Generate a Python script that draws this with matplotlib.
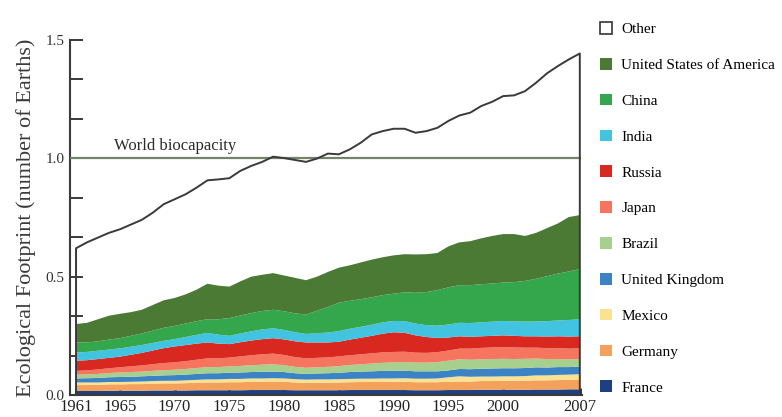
import matplotlib
matplotlib.use('Agg')
import matplotlib.pyplot as plt
from matplotlib.patches import Patch

plt.rcParams['font.family'] = ['Liberation Serif', 'DejaVu Serif']

# 年份 1961-2007
years = list(range(1961, 2008))

# 各国生态足迹（地球数），从下往上堆叠
france = [0.017, 0.017, 0.017, 0.018, 0.018, 0.018, 0.018, 0.019, 0.019, 0.019,
          0.019, 0.020, 0.020, 0.020, 0.020, 0.020, 0.021, 0.021, 0.021, 0.021,
          0.020, 0.020, 0.020, 0.020, 0.020, 0.021, 0.021, 0.021, 0.021, 0.021,
          0.021, 0.020, 0.020, 0.020, 0.021, 0.021, 0.021, 0.022, 0.022, 0.022,
          0.022, 0.022, 0.023, 0.023, 0.023, 0.024, 0.024]
germany = [0.025, 0.025, 0.026, 0.027, 0.027, 0.028, 0.028, 0.029, 0.030, 0.030,
           0.031, 0.032, 0.033, 0.033, 0.034, 0.034, 0.035, 0.035, 0.036, 0.035,
           0.033, 0.031, 0.032, 0.032, 0.033, 0.033, 0.034, 0.034, 0.035, 0.035,
           0.035, 0.034, 0.034, 0.034, 0.035, 0.036, 0.036, 0.037, 0.037, 0.038,
           0.038, 0.038, 0.039, 0.039, 0.040, 0.040, 0.041]
mexico = [0.011, 0.011, 0.010, 0.010, 0.010, 0.010, 0.011, 0.011, 0.011, 0.011,
          0.012, 0.012, 0.013, 0.013, 0.014, 0.014, 0.014, 0.014, 0.014, 0.014,
          0.014, 0.014, 0.014, 0.014, 0.014, 0.014, 0.014, 0.014, 0.014, 0.014,
          0.015, 0.015, 0.015, 0.016, 0.019, 0.022, 0.020, 0.019, 0.019, 0.019,
          0.019, 0.020, 0.021, 0.021, 0.022, 0.022, 0.023]
uk = [0.017, 0.018, 0.019, 0.020, 0.021, 0.021, 0.022, 0.022, 0.023, 0.024,
      0.024, 0.025, 0.026, 0.026, 0.026, 0.027, 0.027, 0.028, 0.028, 0.027,
      0.025, 0.024, 0.025, 0.026, 0.027, 0.029, 0.030, 0.031, 0.032, 0.033,
      0.032, 0.031, 0.031, 0.030, 0.029, 0.031, 0.032, 0.033, 0.034, 0.034,
      0.034, 0.034, 0.034, 0.033, 0.033, 0.032, 0.032]
brazil = [0.016, 0.016, 0.017, 0.018, 0.019, 0.020, 0.020, 0.021, 0.022, 0.023,
          0.024, 0.025, 0.026, 0.026, 0.027, 0.028, 0.029, 0.030, 0.031, 0.029,
          0.027, 0.026, 0.026, 0.027, 0.028, 0.030, 0.031, 0.033, 0.034, 0.035,
          0.036, 0.037, 0.037, 0.039, 0.041, 0.041, 0.040, 0.040, 0.040, 0.040,
          0.039, 0.039, 0.037, 0.036, 0.034, 0.033, 0.032]
japan = [0.016, 0.017, 0.019, 0.020, 0.022, 0.024, 0.026, 0.028, 0.030, 0.031,
         0.033, 0.035, 0.037, 0.037, 0.037, 0.040, 0.042, 0.044, 0.045, 0.043,
         0.041, 0.040, 0.040, 0.040, 0.041, 0.041, 0.042, 0.043, 0.044, 0.044,
         0.044, 0.042, 0.041, 0.042, 0.043, 0.045, 0.047, 0.048, 0.049, 0.050,
         0.049, 0.047, 0.046, 0.046, 0.046, 0.045, 0.045]
russia = [0.043, 0.043, 0.044, 0.044, 0.045, 0.049, 0.053, 0.058, 0.063, 0.067,
          0.068, 0.068, 0.067, 0.062, 0.057, 0.060, 0.062, 0.064, 0.065, 0.066,
          0.067, 0.067, 0.065, 0.063, 0.062, 0.066, 0.070, 0.074, 0.079, 0.083,
          0.080, 0.073, 0.067, 0.060, 0.055, 0.052, 0.050, 0.049, 0.049, 0.049,
          0.049, 0.048, 0.048, 0.049, 0.050, 0.051, 0.051]
india = [0.035, 0.035, 0.035, 0.035, 0.035, 0.034, 0.033, 0.032, 0.031, 0.031,
         0.034, 0.037, 0.040, 0.038, 0.035, 0.037, 0.039, 0.041, 0.042, 0.040,
         0.038, 0.036, 0.039, 0.042, 0.045, 0.046, 0.046, 0.047, 0.048, 0.048,
         0.049, 0.050, 0.050, 0.052, 0.055, 0.057, 0.058, 0.059, 0.060, 0.061,
         0.061, 0.062, 0.063, 0.065, 0.067, 0.070, 0.072]
china = [0.042, 0.040, 0.040, 0.042, 0.043, 0.046, 0.049, 0.052, 0.055, 0.056,
         0.057, 0.058, 0.058, 0.065, 0.075, 0.076, 0.077, 0.078, 0.078, 0.079,
         0.080, 0.082, 0.095, 0.108, 0.120, 0.118, 0.117, 0.116, 0.115, 0.115,
         0.122, 0.130, 0.140, 0.150, 0.157, 0.159, 0.160, 0.161, 0.161, 0.162,
         0.166, 0.172, 0.180, 0.190, 0.198, 0.205, 0.212]
usa = [0.078, 0.083, 0.093, 0.101, 0.103, 0.100, 0.100, 0.108, 0.116, 0.118,
       0.123, 0.133, 0.150, 0.142, 0.133, 0.144, 0.154, 0.153, 0.155, 0.151,
       0.150, 0.145, 0.144, 0.148, 0.148, 0.150, 0.155, 0.159, 0.160, 0.162,
       0.161, 0.162, 0.160, 0.157, 0.173, 0.181, 0.186, 0.194, 0.201, 0.205,
       0.203, 0.190, 0.194, 0.203, 0.212, 0.230, 0.228]

# 世界总生态足迹（其余部分为 Other）
world_total = [0.620, 0.645, 0.665, 0.685, 0.700, 0.720, 0.740, 0.770, 0.806, 0.827,
               0.848, 0.876, 0.907, 0.911, 0.916, 0.947, 0.968, 0.985, 1.007, 1.001,
               0.993, 0.985, 0.999, 1.020, 1.017, 1.038, 1.066, 1.101, 1.115, 1.125,
               1.125, 1.108, 1.115, 1.129, 1.158, 1.181, 1.193, 1.221, 1.239, 1.263,
               1.266, 1.284, 1.319, 1.359, 1.390, 1.418, 1.443]
biocapacity = 1.0

stack_names = ['France', 'Germany', 'Mexico', 'United Kingdom', 'Brazil',
               'Japan', 'Russia', 'India', 'China', 'United States of America']
stack_colors = ['#1e3f80', '#f4a15c', '#fbe291', '#3b83c4', '#a7d08e',
                '#f5755e', '#d9281f', '#42c3df', '#34a74c', '#4b7a35']
stack_data = [france, germany, mexico, uk, brazil, japan, russia, india, china, usa]

x_ticks = [1961, 1965, 1970, 1975, 1980, 1985, 1990, 1995, 2000, 2007]
y_ticks = [0.0, 0.5, 1.0, 1.5]
y_minor = [1 / 6, 2 / 6, 4 / 6, 5 / 6, 7 / 6, 8 / 6]

fig = plt.figure(figsize=(7.82, 4.17), dpi=100)
ax = fig.add_axes([70 / 782, 22 / 417, 512 / 782, 355 / 417])

# Other 区域：白色填充 + 黑色轮廓
ax.fill_between(years, 0, world_total, color='white', zorder=1)
ax.plot([years[0]] + years + [years[-1]], [0] + world_total + [0],
        color='#3a3a3a', linewidth=1.4, zorder=4)

ax.stackplot(years, *stack_data, colors=stack_colors, linewidth=0, zorder=2)

# 世界生物承载力
ax.plot([1960.45, years[-1]], [biocapacity, biocapacity], color='#74846a',
        linewidth=1.6, zorder=3)
ax.text(1964.5, 1.035, 'World biocapacity', fontsize=12, color='#2b2b2b',
        va='baseline', ha='left')

ax.set_xlim(1960.45, 2007.2)
ax.set_ylim(0, 1.5)
for side in ['top', 'right']:
    ax.spines[side].set_visible(False)
for side in ['left', 'bottom']:
    ax.spines[side].set_color('#3a3a3a')
    ax.spines[side].set_linewidth(1.5)

ax.set_xticks(x_ticks)
ax.set_xticklabels([str(t) for t in x_ticks])
ax.set_yticks(y_ticks)
ax.set_yticklabels(['0.0', '0.5', '1.0', '1.5'])
ax.set_yticks(y_minor, minor=True)
ax.tick_params(axis='y', which='both', direction='in', length=9, width=1.4,
               color='#3a3a3a', labelsize=11, labelcolor='#333333', pad=4)
ax.tick_params(axis='x', direction='in', length=5, width=2,
               color='#222222', labelsize=12, labelcolor='#222222', pad=3)

ax.set_ylabel('Ecological Footprint (number of Earths)', fontsize=16,
              color='#3a3a3a', labelpad=7)

handles = [Patch(facecolor='white', edgecolor='#333333', linewidth=1.2, label='Other')]
for name, col in zip(stack_names[::-1], stack_colors[::-1]):
    handles.append(Patch(facecolor=col, edgecolor='none', label=name))
fig.legend(handles=handles, loc='upper left', bbox_to_anchor=(600 / 782, 1 - 22 / 417),
           frameon=False, fontsize=11, handlelength=0.8, handleheight=0.8,
           handletextpad=0.6, labelspacing=1.42, borderpad=0, borderaxespad=0)

fig.savefig('out.png', dpi=100)
